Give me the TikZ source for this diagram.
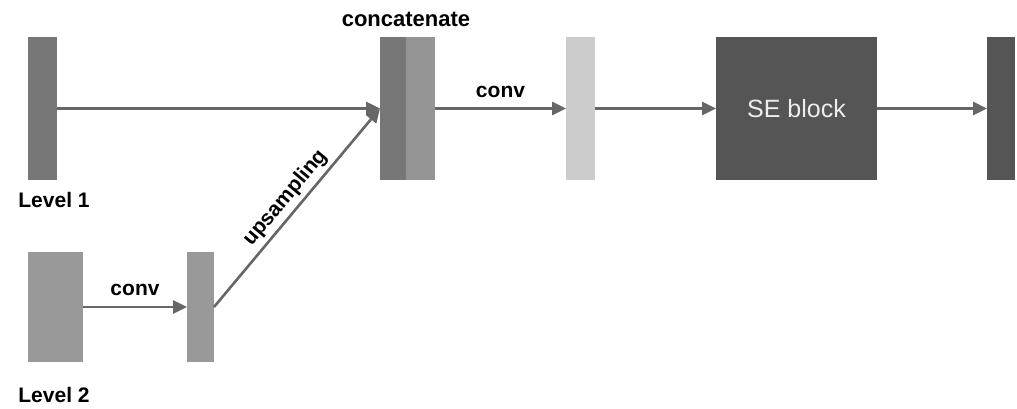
\documentclass[tikz,border=0pt]{standalone}
\usepackage{fontspec}
\setmainfont{Liberation Sans}
\usetikzlibrary{arrows.meta}
\definecolor{cA}{HTML}{777777}
\definecolor{cB}{HTML}{959595}
\definecolor{cC}{HTML}{CCCCCC}
\definecolor{cD}{HTML}{555555}
\definecolor{cL}{HTML}{999999}
\definecolor{cLine}{HTML}{666666}
\tikzset{
  blk/.style={inner sep=0pt, outer sep=0pt, draw=none},
  lbl/.style={font=\fontsize{21}{24}\selectfont\bfseries, text=black, inner sep=0pt},
  conn/.style={draw=cLine, line width=2.6pt, -{Triangle[length=14pt,width=13pt]}},
}
\begin{document}
\begin{tikzpicture}[x=1pt,y=-1pt]
\useasboundingbox (0,0) rectangle (1017,408);
% blocks
\node[blk, fill=cA, minimum width=29pt, minimum height=143pt] (l1) at (42.5,108.5) {};
\node[blk, fill=cA, minimum width=26pt, minimum height=143pt] (ca) at (393,108.5) {};
\node[blk, fill=cB, minimum width=29pt, minimum height=143pt] (cb) at (420.5,108.5) {};
\node[blk, fill=cC, minimum width=29pt, minimum height=143pt] (cv) at (580.5,108.5) {};
\node[blk, fill=cD, minimum width=161pt, minimum height=143pt, text=white!93!black, font=\fontsize{25}{28}\selectfont] (se) at (796.5,108.5) {SE block};
\node[blk, fill=cD, minimum width=28pt, minimum height=143pt] (out) at (1001,108.5) {};
\node[blk, fill=cL, minimum width=55pt, minimum height=110pt] (l2) at (55.5,307) {};
\node[blk, fill=cL, minimum width=27pt, minimum height=110pt] (up) at (200.5,307) {};
% labels
\node[lbl] (t1) at (54,200) {Level 1};
\node[lbl] (t2) at (54,395) {Level 2};
\node[lbl, font=\fontsize{22}{24}\selectfont\bfseries] (tc) at (406,19) {concatenate};
% connectors
\draw[conn] (l1.east) -- (ca.west);
\draw[conn] (cb.east) -- node[lbl, above=10pt] {conv} (cv.west);
\draw[conn] (cv.east) -- (se.west);
\draw[conn] (se.east) -- (out.west);
\draw[conn] (l2.east) -- node[lbl, above=10pt] {conv} (up.west);
\draw[conn] (up.east) -- node[lbl, sloped, above=4pt, pos=0.5] {upsampling} (ca.west);
\end{tikzpicture}
\end{document}
